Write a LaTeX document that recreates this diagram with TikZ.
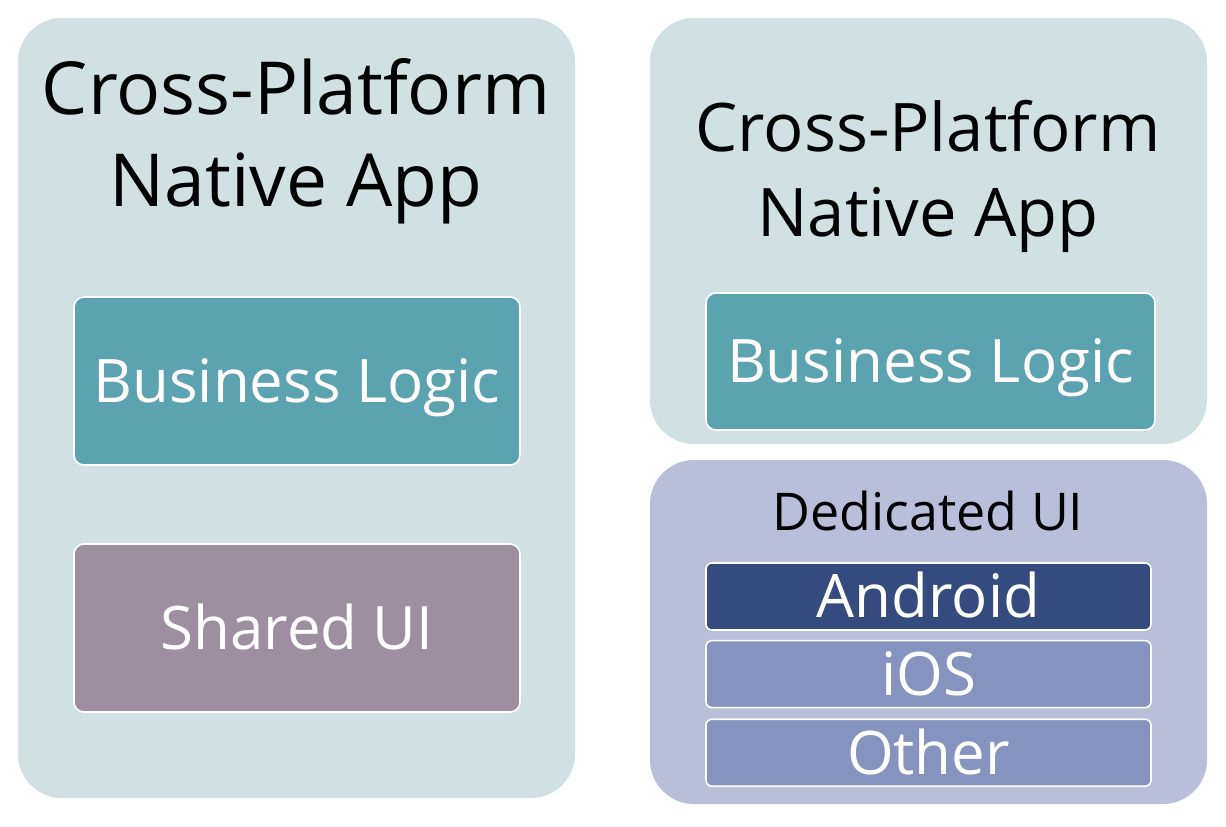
\documentclass[tikz,border=0pt]{standalone}
\usepackage{fontspec}
\setmainfont{Open Sans}
\usepackage{xcolor}
\usetikzlibrary{positioning}
\definecolor{mpanel}{RGB}{208, 224, 227}
\definecolor{mlav}{RGB}{185, 190, 217}
\definecolor{mteal}{RGB}{91, 163, 175}
\definecolor{mmauve}{RGB}{158, 143, 160}
\definecolor{mnavy}{RGB}{53, 74, 126}
\definecolor{mperi}{RGB}{134, 147, 192}

\tikzset{
  panel/.style={rounded corners=22pt},
  title/.style={align=center, text=black},
  block/.style={draw=white, line width=0.8pt, rounded corners=5pt,
    text=white, minimum width=223pt,
    font=\fontsize{30}{36}\selectfont, text height=21.4pt, text depth=0pt},
  osblock/.style={block, rounded corners=3pt, minimum width=222.5pt,
    minimum height=33.5pt},
}

\begin{document}
\begin{tikzpicture}[x=0.5pt, y=-0.5pt]
  \useasboundingbox (0,0) rectangle (1226,826);
  % Left panel
  \fill[panel, mpanel] (18,18) rectangle (575,798);
  \node[title, font=\fontsize{36.6}{46}\selectfont] (titleL) at (296,141)
    {Cross-Platform\\Native App};
  \node[block, fill=mteal, minimum height=84pt] (logicL) at (297,381)
    {Business Logic};
  \node[block, fill=mmauve, minimum height=84pt] (sharedUI) at (297,628)
    {Shared UI};
  % Right panel, top
  \fill[panel, mpanel] (650,18) rectangle (1207,444);
  \node[title, font=\fontsize{33.5}{42.5}\selectfont] (titleR) at (928,176)
    {Cross-Platform\\Native App};
  \node[block, fill=mteal, minimum width=224.5pt, minimum height=68.5pt]
    (logicR) at (930.5,361.5) {Business Logic};
  % Right panel, bottom
  \fill[panel, mlav] (650,460) rectangle (1207,804);
  \node[font=\fontsize{26}{31}\selectfont, text height=18.6pt, text depth=0pt]
    (dedicated) at (928,512) {Dedicated UI};
  \node[osblock, fill=mnavy] (android) at (928.5,596.5) {Android};
  \node[osblock, fill=mperi, below=4.5pt of android] (ios) {iOS};
  \node[osblock, fill=mperi, below=5pt of ios] (other) {Other};
\end{tikzpicture}
\end{document}
